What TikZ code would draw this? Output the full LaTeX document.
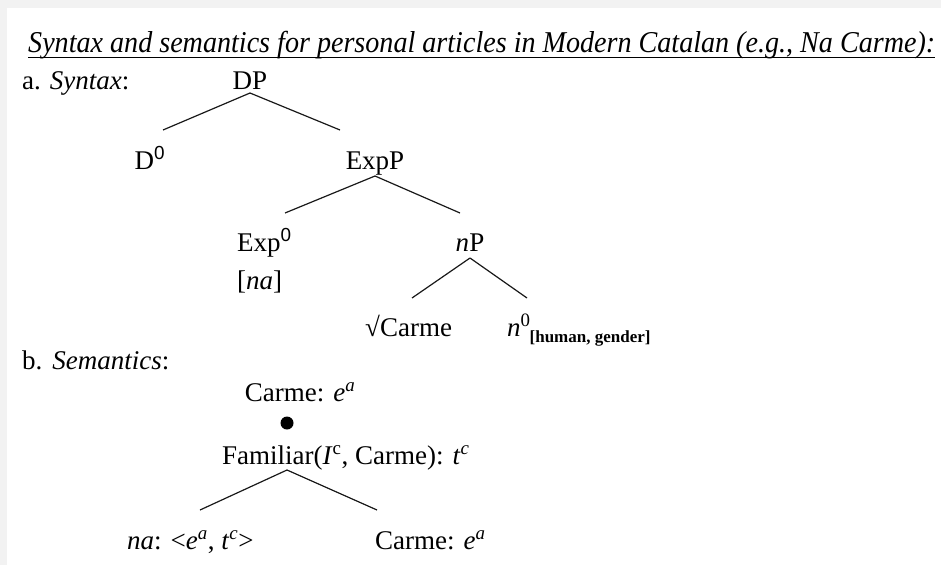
\documentclass[tikz,border=0pt]{standalone}
\usepackage{fontspec}
\setmainfont{Liberation Serif}
\newfontfamily\supsans{Liberation Sans}
\begin{document}
\begin{tikzpicture}[x=1pt,y=-1pt,
  lbl/.style={inner sep=0pt,font=\fontsize{27}{32}\selectfont},
  edge/.style={line width=1.2pt,black!90}]
\useasboundingbox (0,0) rectangle (941,565);
% page frame with a faint grey margin at top and left
\fill[black!5] (0,0) rectangle (941,8);
\fill[black!5] (0,0) rectangle (7,565);
\fill[white] (7,8) rectangle (941,565);

% heading
\node[lbl,anchor=base west] (title) at (28,52)
  {\resizebox{907pt}{1.12\height}{\itshape Syntax and semantics for personal articles in Modern Catalan (e.g., Na Carme):}};
\draw[line width=1pt] ([yshift=-5pt]title.base west) -- ([yshift=-5pt]title.base east);

% a. syntax tree
\node[lbl,anchor=base west] (la) at (22,89) {a. \textit{Syntax}:};
\node[lbl,anchor=base] (DP) at (250,89) {DP};
\node[lbl,anchor=base] (D0) at (150,169) {D\textsuperscript{\supsans 0}};
\node[lbl,anchor=base] (ExpP) at (375,169) {ExpP};
\node[lbl,anchor=base west] (Exp0) at (237,251) {Exp\textsuperscript{\supsans 0}};
\node[lbl,anchor=base west] (na) at (237,289) {[\textit{na}]};
\node[lbl,anchor=base] (nP) at (470,251) {\textit{n}P};
\node[lbl,anchor=base west] (root) at (365,336) {√Carme};
\node[lbl,anchor=base west] (n0) at (507,336)
  {\textit{n}$^{\mathrm{0}}$\kern-1pt\raisebox{-6pt}{\fontsize{17}{20}\selectfont\bfseries [human, gender]}};

\coordinate (dpL) at (163,130);  \coordinate (dpR) at (340,130);
\coordinate (exL) at (285,213);  \coordinate (exR) at (460,213);
\coordinate (npL) at (412,298);  \coordinate (npR) at (527,298);
\draw[edge] (250,93) coordinate (dpT) -- (dpL);
\draw[edge] (dpT) -- (dpR);
\draw[edge] (375,176) coordinate (exT) -- (exL);
\draw[edge] (exT) -- (exR);
\draw[edge] (470,258) coordinate (npT) -- (npL);
\draw[edge] (npT) -- (npR);

% b. semantics
\node[lbl,anchor=base west] (lb) at (22,369) {b.\hspace{10pt}\textit{Semantics}:};
\node[lbl,anchor=base] (carmeTop) at (300,401) {Carme: \textit{e}\textsuperscript{\textit{a}}};
\node[circle,fill=black,inner sep=0pt,minimum size=13pt] (dot) at (287,423) {};
\node[lbl,anchor=base west] (fam) at (222,464)
  {Familiar(\textit{I}\textsuperscript{c}, Carme): \textit{t}\textsuperscript{\textit{c}}};
\node[lbl,anchor=base west] (naType) at (127,549)
  {\textit{na}: <\textit{e}\textsuperscript{\textit{a}}, \textit{t}\textsuperscript{\textit{c}}>};
\node[lbl,anchor=base west] (carmeLow) at (375,549) {Carme: \textit{e}\textsuperscript{\textit{a}}};

\coordinate (faL) at (200,510);  \coordinate (faR) at (377,510);
\draw[edge] (287,470) coordinate (faT) -- (faL);
\draw[edge] (faT) -- (faR);
\end{tikzpicture}
\end{document}
